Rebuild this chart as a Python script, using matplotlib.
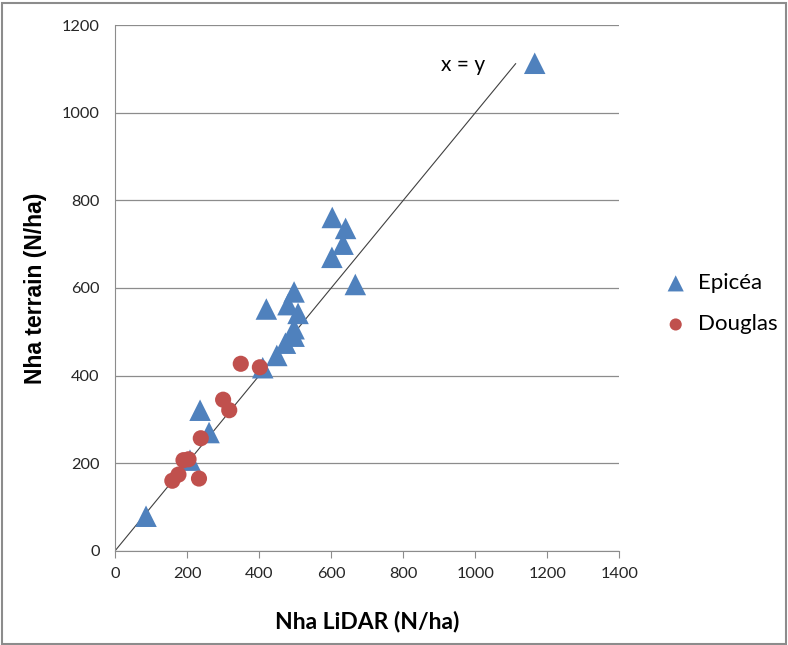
import matplotlib
matplotlib.use("Agg")
import matplotlib.pyplot as plt

plt.rcParams['font.family'] = ['Lato', 'DejaVu Sans']

# Nha LiDAR vs Nha terrain, per stand
epicea_lidar = [1165, 603, 640, 633, 602, 667, 497, 420, 480, 508, 497, 497,
                473, 449, 410, 236, 261, 208, 86]
epicea_terrain = [1113, 761, 736, 700, 670, 608, 591, 552, 562, 542, 507, 490,
                  474, 446, 418, 321, 270, 207, 79]

douglas_lidar = [349, 402, 300, 317, 238, 190, 204, 176, 159, 233]
douglas_terrain = [427, 419, 345, 321, 257, 207, 209, 174, 160, 165]

line_x = [0, 1112]
line_y = [0, 1112]

blue = '#4F81BD'
red = '#C0504D'
grid_col = '#8C8C8C'

fig = plt.figure(figsize=(7.88, 6.45), dpi=100)
ax = fig.add_axes([0.146, 0.146, 0.640, 0.815])

ax.set_axisbelow(True)
ax.yaxis.grid(True, color=grid_col, linewidth=0.9)
ax.plot(line_x, line_y, color='#404040', linewidth=0.8, zorder=2)
ax.scatter(epicea_lidar, epicea_terrain, marker='^', s=240, color=blue,
           edgecolors='none', label='Epicéa', zorder=3)
ax.scatter(douglas_lidar, douglas_terrain, marker='o', s=135, color=red,
           edgecolors='none', label='Douglas', zorder=3)
ax.text(967, 1108, 'x = y', fontsize=15, ha='center', va='center')

ax.set_xlim(0, 1400)
ax.set_ylim(0, 1200)
ax.set_xticks(range(0, 1401, 200))
ax.set_yticks(range(0, 1201, 200))
ax.tick_params(labelsize=11.8, colors=grid_col, labelcolor='#262626')
ax.tick_params(axis='x', length=5, pad=7)
ax.tick_params(axis='y', length=0, pad=11)
for side in ['top', 'right']:
    ax.spines[side].set_visible(False)
for side in ['left', 'bottom']:
    ax.spines[side].set_color(grid_col)

ax.set_xlabel('Nha LiDAR (N/ha)', fontsize=16.5, fontweight='bold', labelpad=21)
ax.set_ylabel('Nha terrain (N/ha)', fontsize=16.5, fontweight='bold', labelpad=11,
              family=['Liberation Sans', 'DejaVu Sans'])

ax.legend(loc='center left', bbox_to_anchor=(1.05, 0.47), frameon=False,
          fontsize=16, handletextpad=0.0, labelspacing=0.95, scatterpoints=1,
          borderaxespad=0, markerscale=0.75)

# thin frame around the whole chart
fig.patches.append(plt.Rectangle((0.003, 0.002), 0.994, 0.993, transform=fig.transFigure,
                                 fill=False, edgecolor='#8C8C8C', linewidth=1.5))

fig.savefig('out.png', dpi=100)
